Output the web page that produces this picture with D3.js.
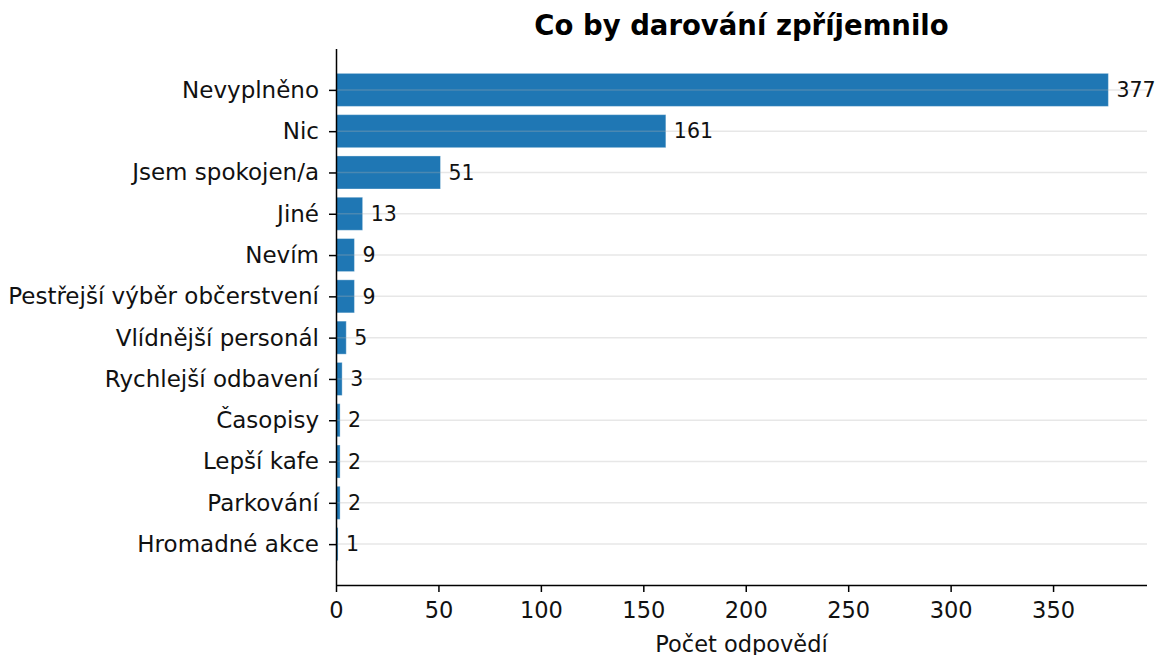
<!DOCTYPE html>
<html>
<head>
<meta charset="utf-8">
<script src="https://cdn.jsdelivr.net/npm/d3@7"></script>
<style>
  body { margin: 0; background: #fff; }
  svg, svg text { font-family: "DejaVu Sans", sans-serif; }
</style>
</head>
<body>
<div id="chart-container"></div>
<script>
const categories = [
    "Nevyplněno", "Nic", "Jsem spokojen/a", "Jiné", "Nevím",
    "Pestřejší výběr občerstvení", "Vlídnější personál", "Rychlejší odbavení",
    "Časopisy", "Lepší kafe", "Parkování", "Hromadné akce",
];
const counts = [377, 161, 51, 13, 9, 9, 5, 3, 2, 2, 2, 1];
const xTickValues = [0, 50, 100, 150, 200, 250, 300, 350];

const width = 1156;
const height = 655;
const margin = { top: 49, right: 9, bottom: 70, left: 336 };
const innerWidth = width - margin.left - margin.right;
const innerHeight = height - margin.top - margin.bottom;

const svg = d3.select("#chart-container")
    .append("svg")
    .attr("width", width)
    .attr("height", height);

const graph = svg.append("g")
    .attr("transform", "translate(" + margin.left + "," + margin.top + ")");

// x scale, matplotlib style 5% margin on the right
const x = d3.scaleLinear()
    .domain([0, d3.max(counts) * 1.05])
    .range([0, innerWidth]);

// y as a linear scale over category index (like barh positions)
const n = categories.length;
const y = d3.scaleLinear()
    .domain([-0.99, n - 1 + 0.99])
    .range([0, innerHeight]);
const barH = y(0.4) - y(-0.4);

const data = categories.map((c, i) => ({ name: c, value: counts[i], idx: i }));

// bars
graph.selectAll("rect.bar")
    .data(data)
    .enter()
    .append("rect")
    .attr("class", "bar")
    .attr("x", x(0))
    .attr("y", d => y(d.idx) - barH / 2)
    .attr("width", d => x(d.value) - x(0))
    .attr("height", barH)
    .attr("fill", "#1f77b4")
    .attr("stroke", "rgba(255,255,255,0.35)")
    .attr("stroke-width", 1);

// grid lines over the bars (semi transparent)
graph.selectAll("line.grid")
    .data(data)
    .enter()
    .append("line")
    .attr("class", "grid")
    .attr("x1", 0)
    .attr("x2", innerWidth)
    .attr("y1", d => y(d.idx))
    .attr("y2", d => y(d.idx))
    .attr("stroke", "rgba(176,176,176,0.3)")
    .attr("stroke-width", 1.5);

// value labels
graph.selectAll("text.val")
    .data(data)
    .enter()
    .append("text")
    .attr("class", "val")
    .attr("x", d => x(d.value) + 8)
    .attr("y", d => y(d.idx))
    .attr("dy", "0.35em")
    .attr("fill", "#111")
    .style("font-size", "20.5px")
    .text(d => d.value);

// y axis
const yAxis = graph.append("g")
    .call(d3.axisLeft(y)
        .tickValues(d3.range(n))
        .tickSize(7)
        .tickPadding(10)
        .tickFormat(i => categories[i]));
yAxis.attr("font-family", null).attr("font-size", null);
yAxis.select(".domain").attr("d", "M0.5,0V" + innerHeight).attr("stroke-width", 1.5);
yAxis.selectAll(".tick line").attr("stroke-width", 1.5);
yAxis.selectAll("text").style("font-size", "23px").attr("fill", "#111");

// x axis
const xAxis = graph.append("g")
    .attr("transform", "translate(0," + innerHeight + ")")
    .call(d3.axisBottom(x).tickValues(xTickValues).tickSize(7).tickPadding(10));
xAxis.attr("font-family", null).attr("font-size", null);
xAxis.select(".domain").attr("d", "M0," + 0.5 + "H" + innerWidth).attr("stroke-width", 1.5);
xAxis.selectAll(".tick line").attr("stroke-width", 1.5);
xAxis.selectAll("text").style("font-size", "22.5px").attr("fill", "#111");

// x axis label
graph.append("text")
    .attr("text-anchor", "middle")
    .attr("x", innerWidth / 2)
    .attr("y", innerHeight + 67)
    .attr("fill", "#111")
    .style("font-size", "22.5px")
    .text("Počet odpovědí");

// title
svg.append("text")
    .attr("text-anchor", "middle")
    .attr("x", margin.left + innerWidth / 2)
    .attr("y", 35)
    .attr("fill", "#000")
    .style("font-size", "27.5px")
    .style("font-weight", "bold")
    .text("Co by darování zpříjemnilo");
</script>
</body>
</html>
